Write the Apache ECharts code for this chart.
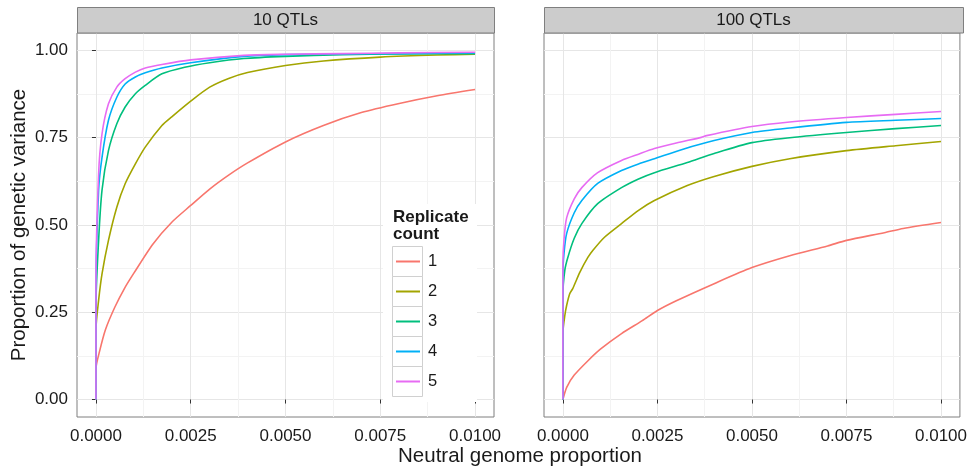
<!DOCTYPE html>
<html>
<head>
<meta charset="utf-8">
<script src="https://cdn.jsdelivr.net/npm/echarts@6/dist/echarts.min.js"></script>
<style>
html,body{margin:0;padding:0;background:#fff;}
#chart{width:970px;height:469px;}
</style>
</head>
<body>
<div id="chart"></div>
<script>
// ---------- data ----------
const panelTitles = ['10 QTLs', '100 QTLs'];
const seriesNames = ['1', '2', '3', '4', '5'];
const colors = ['#F8766D', '#A3A500', '#00BF7D', '#00B0F6', '#E76BF3'];
const xTicks = [0, 0.0025, 0.005, 0.0075, 0.01];
const xMinorTicks = [0.00125, 0.00375, 0.00625, 0.00875];
const yTicks = [0, 0.25, 0.5, 0.75, 1];
const yMinorTicks = [0.125, 0.375, 0.625, 0.875];

// 10 QTLs panel
const q10_r1_x = [0, 0, 0.0001, 0.00025, 0.0005, 0.00075, 0.001, 0.0015, 0.002, 0.0025, 0.003, 0.0035, 0.004, 0.005, 0.006, 0.007, 0.008, 0.009, 0.01];
const q10_r1_y = [0, 0.088, 0.14, 0.2, 0.265, 0.318, 0.362, 0.445, 0.508, 0.556, 0.603, 0.643, 0.678, 0.738, 0.785, 0.822, 0.848, 0.87, 0.888];
const q10_r2_x = [0, 0, 0.00007, 0.00016, 0.00033, 0.00055, 0.00077, 0.00104, 0.0013, 0.00174, 0.002, 0.0025, 0.003, 0.0035, 0.004, 0.005, 0.006, 0.0075, 0.009, 0.01];
const q10_r2_y = [0, 0.2, 0.284, 0.36, 0.456, 0.551, 0.618, 0.675, 0.723, 0.785, 0.81, 0.855, 0.895, 0.92, 0.937, 0.957, 0.97, 0.981, 0.987, 0.989];
const q10_r3_x = [0, 0, 0.00007, 0.00016, 0.00033, 0.00055, 0.00077, 0.00104, 0.0013, 0.00174, 0.00234, 0.003, 0.0039, 0.005, 0.0065, 0.008, 0.01];
const q10_r3_y = [0, 0.27, 0.456, 0.6, 0.713, 0.79, 0.838, 0.876, 0.9, 0.933, 0.952, 0.965, 0.977, 0.983, 0.988, 0.99, 0.991];
const q10_r4_x = [0, 0, 0.00007, 0.00016, 0.00033, 0.00055, 0.00077, 0.00104, 0.0013, 0.00174, 0.0025, 0.0039, 0.005, 0.0065, 0.008, 0.01];
const q10_r4_y = [0, 0.3, 0.6, 0.694, 0.8, 0.866, 0.904, 0.924, 0.936, 0.95, 0.965, 0.983, 0.988, 0.99, 0.991, 0.993];
const q10_r5_x = [0, 0, 0.00007, 0.00016, 0.00033, 0.00055, 0.00077, 0.00104, 0.0013, 0.00174, 0.0025, 0.0039, 0.005, 0.0065, 0.008, 0.01];
const q10_r5_y = [0, 0.33, 0.647, 0.761, 0.847, 0.895, 0.919, 0.938, 0.95, 0.96, 0.973, 0.986, 0.989, 0.991, 0.993, 0.995];

// 100 QTLs panel
const q100_r1_x = [0, 0.0001, 0.0003, 0.00067, 0.001, 0.00155, 0.0021, 0.0025, 0.003, 0.004, 0.005, 0.006, 0.007, 0.0075, 0.0085, 0.009, 0.01];
const q100_r1_y = [0, 0.035, 0.07, 0.112, 0.145, 0.189, 0.226, 0.255, 0.283, 0.332, 0.378, 0.412, 0.44, 0.456, 0.478, 0.49, 0.507];
const q100_r2_x = [0, 0, 0.00005, 0.0001, 0.00018, 0.00026, 0.00045, 0.00066, 0.00079, 0.0011, 0.00155, 0.002, 0.00242, 0.00329, 0.004, 0.005, 0.006, 0.0075, 0.0088, 0.01];
const q100_r2_y = [0, 0.19, 0.24, 0.27, 0.303, 0.318, 0.365, 0.407, 0.427, 0.465, 0.504, 0.542, 0.57, 0.613, 0.639, 0.668, 0.69, 0.713, 0.727, 0.739];
const q100_r3_x = [0, 0, 0.00005, 0.00013, 0.0003, 0.0005, 0.00092, 0.00155, 0.002, 0.00242, 0.00329, 0.004, 0.005, 0.006, 0.0075, 0.0088, 0.01];
const q100_r3_y = [0, 0.3, 0.37, 0.407, 0.462, 0.504, 0.561, 0.607, 0.632, 0.65, 0.679, 0.705, 0.736, 0.75, 0.765, 0.776, 0.785];
const q100_r4_x = [0, 0, 0.00003, 0.0001, 0.0003, 0.0005, 0.00092, 0.00155, 0.002, 0.00242, 0.0032, 0.004, 0.005, 0.006, 0.0075, 0.0088, 0.01];
const q100_r4_y = [0, 0.36, 0.42, 0.476, 0.535, 0.57, 0.619, 0.656, 0.675, 0.69, 0.718, 0.742, 0.765, 0.778, 0.794, 0.8, 0.805];
const q100_r5_x = [0, 0, 0.00003, 0.0001, 0.0003, 0.0005, 0.00092, 0.00155, 0.002, 0.00242, 0.003, 0.00366, 0.0038, 0.005, 0.006, 0.0075, 0.0088, 0.01];
const q100_r5_y = [0, 0.39, 0.46, 0.521, 0.575, 0.607, 0.65, 0.685, 0.703, 0.719, 0.735, 0.751, 0.756, 0.782, 0.795, 0.808, 0.817, 0.825];

const panelData = [
  [[q10_r1_x, q10_r1_y], [q10_r2_x, q10_r2_y], [q10_r3_x, q10_r3_y], [q10_r4_x, q10_r4_y], [q10_r5_x, q10_r5_y]],
  [[q100_r1_x, q100_r1_y], [q100_r2_x, q100_r2_y], [q100_r3_x, q100_r3_y], [q100_r4_x, q100_r4_y], [q100_r5_x, q100_r5_y]]
];

// ---------- layout ----------
const FONT = "'Liberation Sans', Arial, Helvetica, sans-serif";
const TXT = '#1a1a1a';
const grids = [
  {left: 77, top: 33, width: 417, height: 384},
  {left: 544, top: 33, width: 419, height: 384}
];
const X_MIN = -0.0005, X_MAX = 0.0105, Y_MIN = -0.05, Y_MAX = 1.05;

const gridOpts = grids.map(g => Object.assign({}, g, {
  show: true, backgroundColor: '#ffffff', borderColor: '#7f7f7f', borderWidth: 1, containLabel: false
}));

const xAxes = [], yAxes = [];
grids.forEach((g, gi) => {
  xAxes.push({
    type: 'value', gridIndex: gi, min: X_MIN, max: X_MAX,
    axisLine: {show: false},
    axisTick: {show: true, customValues: xTicks, length: 4, lineStyle: {color: '#333333', width: 1}},
    axisLabel: {show: true, customValues: xTicks, margin: 11, fontSize: 17, fontFamily: FONT, color: TXT,
      formatter: v => v.toFixed(4)},
    splitLine: {show: true, lineStyle: {color: '#e6e6e6', width: 1}}
  });
  xAxes.push({
    type: 'value', gridIndex: gi, min: X_MIN, max: X_MAX,
    axisLine: {show: false},
    axisTick: {show: false, customValues: xMinorTicks},
    axisLabel: {show: false},
    splitLine: {show: true, lineStyle: {color: '#f3f3f3', width: 1}}
  });
  yAxes.push({
    type: 'value', gridIndex: gi, min: Y_MIN, max: Y_MAX,
    axisLine: {show: false},
    axisTick: {show: gi === 0, customValues: yTicks, length: 4, lineStyle: {color: '#333333', width: 1}},
    axisLabel: {show: gi === 0, customValues: yTicks, margin: 9, fontSize: 17, fontFamily: FONT, color: TXT,
      formatter: v => v.toFixed(2)},
    splitLine: {show: true, lineStyle: {color: '#e6e6e6', width: 1}}
  });
  yAxes.push({
    type: 'value', gridIndex: gi, min: Y_MIN, max: Y_MAX,
    axisLine: {show: false},
    axisTick: {show: false, customValues: yMinorTicks},
    axisLabel: {show: false},
    splitLine: {show: true, lineStyle: {color: '#f3f3f3', width: 1}}
  });
});

const series = [];
panelData.forEach((curves, pi) => {
  curves.forEach((c, si) => {
    series.push({
      type: 'line', name: seriesNames[si],
      xAxisIndex: pi * 2, yAxisIndex: pi * 2,
      data: c[0].map((x, k) => [x, c[1][k]]),
      symbol: 'none', showSymbol: false,
      smooth: 0.25,
      lineStyle: {color: colors[si], width: 1.6},
      itemStyle: {color: colors[si]},
      z: 2 + si
    });
  });
});

// decorations: strips, legend frame, titles
const graphics = [];
grids.forEach((g, gi) => {
  graphics.push({
    type: 'rect', shape: {x: g.left + 0.5, y: 7.5, width: g.width, height: 25.5},
    style: {fill: '#cccccc', stroke: '#7f7f7f', lineWidth: 1}, z: 1
  });
  graphics.push({
    type: 'text', x: g.left + g.width / 2, y: 20.5,
    style: {text: panelTitles[gi], fill: TXT, font: '17px ' + FONT, align: 'center', verticalAlign: 'middle'}, z: 2
  });
});
// legend background + key boxes
graphics.push({type: 'rect', shape: {x: 383, y: 204, width: 94, height: 198}, style: {fill: '#ffffff'}, z: 1});
for (let i = 0; i < 5; i++) {
  graphics.push({type: 'rect', shape: {x: 392.5, y: 246.5 + 30 * i, width: 30, height: 30},
    style: {fill: '#ffffff', stroke: '#d0d0d0', lineWidth: 1}, z: 1});
}
graphics.push({type: 'text', x: 393, y: 209,
  style: {text: 'Replicate\ncount', fill: TXT, font: 'bold 17px ' + FONT, lineHeight: 17}, z: 6});
// axis titles
graphics.push({type: 'text', x: 520, y: 456,
  style: {text: 'Neutral genome proportion', fill: TXT, font: '20.5px ' + FONT, align: 'center', verticalAlign: 'middle'}, z: 6});
graphics.push({type: 'text', x: 19, y: 225, rotation: Math.PI / 2,
  style: {text: 'Proportion of genetic variance', fill: TXT, font: '20.5px ' + FONT, align: 'center', verticalAlign: 'middle'}, z: 6});

const option = {
  animation: false,
  backgroundColor: '#ffffff',
  grid: gridOpts,
  xAxis: xAxes,
  yAxis: yAxes,
  legend: {
    data: seriesNames.map(n => ({name: n, icon: 'rect'})),
    orient: 'vertical', left: 396, top: 253,
    itemWidth: 24, itemHeight: 2, itemGap: 13, padding: 0,
    textStyle: {fontSize: 16.5, lineHeight: 16, fontFamily: FONT, color: TXT, padding: [0, 0, 0, 3]},
    selectedMode: false
  },
  graphic: graphics,
  series: series
};

const chart = echarts.init(document.getElementById('chart'), null, {renderer: 'canvas'});
chart.setOption(option);
</script>
</body>
</html>
